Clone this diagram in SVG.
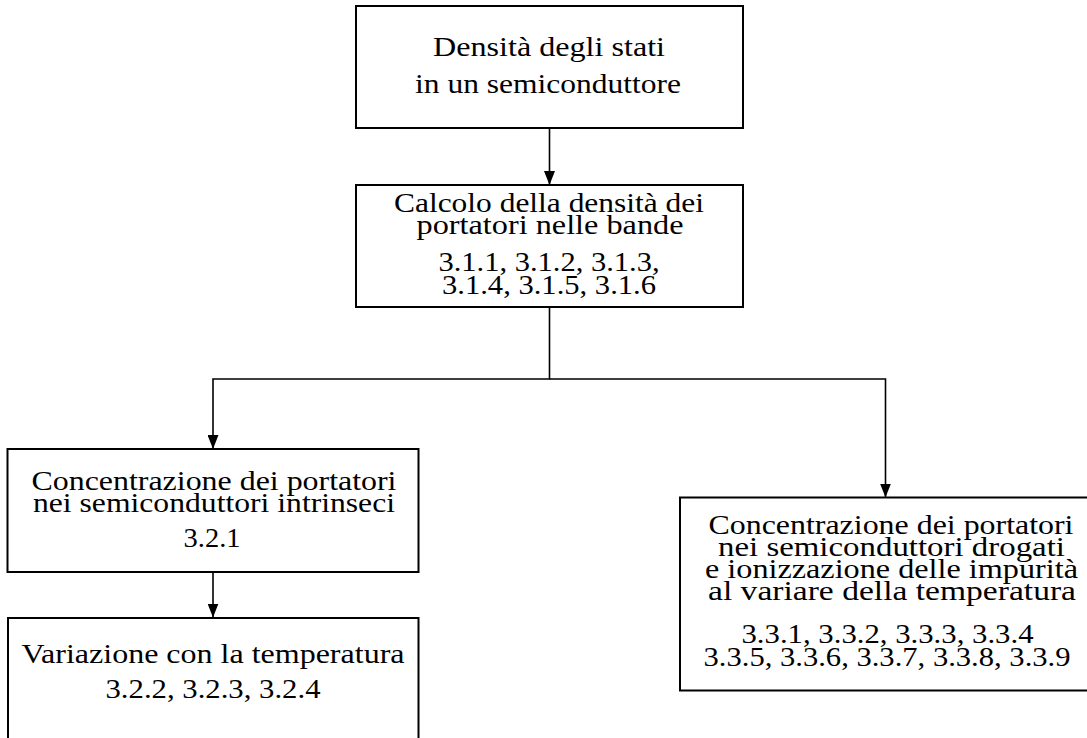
<svg xmlns="http://www.w3.org/2000/svg" width="1087" height="738" viewBox="0 0 1087 738">
  <style>
    .box { fill: #ffffff; stroke: #000000; stroke-width: 2; }
    .conn { fill: none; stroke: #000000; stroke-width: 1.6; }
    text { font-family: "Liberation Serif", "Times New Roman", serif; font-size: 28px; fill: #000000; text-anchor: middle; }
  </style>
  <defs>
    <marker id="arrow" markerUnits="userSpaceOnUse" markerWidth="14" markerHeight="11" refX="14" refY="5.5" orient="auto">
      <path d="M0,0 L14,5.5 L0,11 Z" fill="#000000"/>
    </marker>
  </defs>
  <rect width="1087" height="738" fill="#ffffff"/>

  <g id="connectors">
    <path class="conn" d="M549.5 128 V185" marker-end="url(#arrow)"/>
    <path class="conn" d="M549.5 307 V379 H213 V449" marker-end="url(#arrow)"/>
    <path class="conn" d="M549.5 379 H885.5 V497.5" marker-end="url(#arrow)"/>
    <path class="conn" d="M213 572 V617.5" marker-end="url(#arrow)"/>
  </g>

  <g id="n1">
    <rect class="box" x="356" y="6" width="387" height="122"/>
    <text x="549" y="56" textLength="232" lengthAdjust="spacingAndGlyphs">Densità degli stati</text>
    <text x="548" y="92.5" textLength="266" lengthAdjust="spacingAndGlyphs">in un semiconduttore</text>
  </g>

  <g id="n2">
    <rect class="box" x="356" y="185" width="387" height="122"/>
    <text x="549" y="211.5" textLength="310" lengthAdjust="spacingAndGlyphs">Calcolo della densità dei</text>
    <text x="550" y="234" textLength="267" lengthAdjust="spacingAndGlyphs">portatori nelle bande</text>
    <text x="549" y="271" textLength="221" lengthAdjust="spacingAndGlyphs">3.1.1, 3.1.2, 3.1.3,</text>
    <text x="549" y="294" textLength="214" lengthAdjust="spacingAndGlyphs">3.1.4, 3.1.5, 3.1.6</text>
  </g>

  <g id="n3">
    <rect class="box" x="7.5" y="449" width="411" height="123"/>
    <text x="214" y="490" textLength="365" lengthAdjust="spacingAndGlyphs">Concentrazione dei portatori</text>
    <text x="214" y="512" textLength="362" lengthAdjust="spacingAndGlyphs">nei semiconduttori intrinseci</text>
    <text x="212" y="547" textLength="57" lengthAdjust="spacingAndGlyphs">3.2.1</text>
  </g>

  <g id="n4">
    <rect class="box" x="8" y="618" width="410.5" height="140"/>
    <text x="213" y="663" textLength="383" lengthAdjust="spacingAndGlyphs">Variazione con la temperatura</text>
    <text x="213" y="698" textLength="215" lengthAdjust="spacingAndGlyphs">3.2.2, 3.2.3, 3.2.4</text>
  </g>

  <g id="n5">
    <rect class="box" x="680" y="497.5" width="420" height="193"/>
    <text x="891" y="534" textLength="365" lengthAdjust="spacingAndGlyphs">Concentrazione dei portatori</text>
    <text x="891.5" y="556" textLength="347" lengthAdjust="spacingAndGlyphs">nei semiconduttori drogati</text>
    <text x="891.5" y="577.5" textLength="373" lengthAdjust="spacingAndGlyphs">e ionizzazione delle impurità</text>
    <text x="892" y="599.5" textLength="368" lengthAdjust="spacingAndGlyphs">al variare della temperatura</text>
    <text x="887.5" y="643" textLength="292" lengthAdjust="spacingAndGlyphs">3.3.1, 3.3.2, 3.3.3, 3.3.4</text>
    <text x="887" y="666" textLength="367" lengthAdjust="spacingAndGlyphs">3.3.5, 3.3.6, 3.3.7, 3.3.8, 3.3.9</text>
  </g>
</svg>
